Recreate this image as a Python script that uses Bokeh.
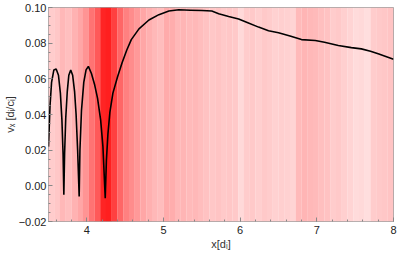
import numpy as np
from bokeh.plotting import figure
from bokeh.models import FixedTicker, Range1d, ColumnDataSource
from bokeh.embed import file_html
from bokeh.resources import INLINE

# background stripes (x from 3.5 to 8 in 0.075 steps), red intensity 0..1
stripe_start = 3.5
stripe_width = 0.075
stripe_intensity = [
    0.20, 0.22, 0.28, 0.25, 0.30, 0.35, 0.42, 0.55, 0.65, 0.86,
    0.88, 0.75, 0.60, 0.50, 0.45, 0.40, 0.35, 0.31, 0.28, 0.26,
    0.33, 0.32, 0.28, 0.29, 0.27, 0.28, 0.26, 0.24, 0.22, 0.23,
    0.21, 0.22, 0.21, 0.15, 0.20, 0.21, 0.19, 0.21, 0.20, 0.18,
    0.19, 0.18, 0.17, 0.27, 0.29, 0.28, 0.27, 0.25, 0.24, 0.20,
    0.21, 0.19, 0.17, 0.14, 0.15, 0.13, 0.20, 0.21, 0.22, 0.23,
]

# black curve
curve_x = [3.50, 3.52, 3.54, 3.57, 3.60, 3.63, 3.655, 3.675, 3.69, 3.70,
           3.71, 3.725, 3.745, 3.765, 3.79, 3.815, 3.84, 3.86, 3.88, 3.90,
           3.91, 3.93, 3.96, 3.99, 4.02, 4.06, 4.10, 4.14, 4.18, 4.21, 4.24,
           4.255, 4.275, 4.30, 4.34, 4.40, 4.46, 4.52, 4.58, 4.68, 4.81, 4.94,
           5.07, 5.20, 5.35, 5.50, 5.63, 5.72, 5.85, 5.98, 6.10, 6.24, 6.37,
           6.50, 6.65, 6.80, 6.98, 7.10, 7.28, 7.45, 7.58, 7.70, 7.80, 7.90, 8.00]
curve_y = [0.022, 0.045, 0.058, 0.065, 0.0655, 0.062, 0.052, 0.037, 0.018, -0.005,
           0.018, 0.038, 0.053, 0.062, 0.065, 0.062, 0.053, 0.040, 0.020, -0.006,
           0.020, 0.042, 0.058, 0.065, 0.067, 0.063, 0.057, 0.049, 0.037, 0.022, -0.007,
           0.014, 0.029, 0.041, 0.052, 0.061, 0.069, 0.076, 0.082, 0.088, 0.093, 0.096,
           0.098, 0.0987, 0.0985, 0.0983, 0.098, 0.0965, 0.095, 0.0936, 0.0915, 0.089, 0.087,
           0.0858, 0.084, 0.082, 0.0815, 0.0805, 0.0787, 0.0775, 0.0768, 0.0755, 0.074, 0.0725, 0.071]

x_ticks = [4, 5, 6, 7, 8]
y_ticks = [-0.02, 0.0, 0.02, 0.04, 0.06, 0.08, 0.10]
y_tick_labels = ["\u22120.02", "0.00", "0.02", "0.04", "0.06", "0.08", "0.10"]

x_min, x_max = 3.5, 8.0
y_min, y_max = -0.02, 0.10

p = figure(output_backend="svg", toolbar_location=None,
           frame_width=345, frame_height=214,
           min_border_left=0, min_border_right=4, min_border_top=7, min_border_bottom=0,
           x_range=Range1d(x_min, x_max), y_range=Range1d(y_min, y_max),
           background_fill_color="white", border_fill_color="white")
p.grid.visible = False
p.outline_line_color = "#a0a0a0"

n = len(stripe_intensity)
centers = [stripe_start + stripe_width * (i + 0.5) for i in range(n)]
colors = []
for a in stripe_intensity:
    g = int(round(255 * (1 - a)))
    colors.append("#ff%02x%02x" % (g, g))
src = ColumnDataSource(dict(x=centers, c=colors))
p.vbar(x="x", width=stripe_width * 1.02, top=y_max, bottom=y_min, source=src,
       fill_color="c", line_color=None)

p.line(curve_x, curve_y, line_color="black", line_width=1.6)

font = "Liberation Sans"
for ax in [p.xaxis[0], p.yaxis[0]]:
    ax.axis_line_color = None
    ax.major_tick_in = 4
    ax.major_tick_out = 0
    ax.minor_tick_in = 2
    ax.minor_tick_out = 0
    ax.major_tick_line_color = "#888888"
    ax.minor_tick_line_color = "#888888"
    ax.major_label_text_font = font
    ax.major_label_text_font_size = "11px"
    ax.major_label_text_color = "#222222"
    ax.axis_label_text_font = font
    ax.axis_label_text_font_style = "normal"
    ax.axis_label_text_font_size = "11px"
    ax.axis_label_text_color = "#333333"

p.xaxis[0].ticker = FixedTicker(ticks=x_ticks,
                                minor_ticks=[3.6 + 0.2 * i for i in range(23)])
p.yaxis[0].ticker = FixedTicker(ticks=y_ticks,
                                minor_ticks=[-0.02 + 0.005 * i for i in range(25)])
p.yaxis[0].major_label_overrides = {t: l for t, l in zip(y_ticks, y_tick_labels)}
p.xaxis[0].axis_label = "x[d\u1d62]"
p.yaxis[0].axis_label = "v\u2093 [d\u1d62/c\u1d62]"
p.xaxis[0].major_label_standoff = 4
p.xaxis[0].axis_label_standoff = 1
p.yaxis[0].major_label_standoff = 2
p.yaxis[0].axis_label_standoff = 0

open("out.html", "w").write(file_html(p, INLINE))
